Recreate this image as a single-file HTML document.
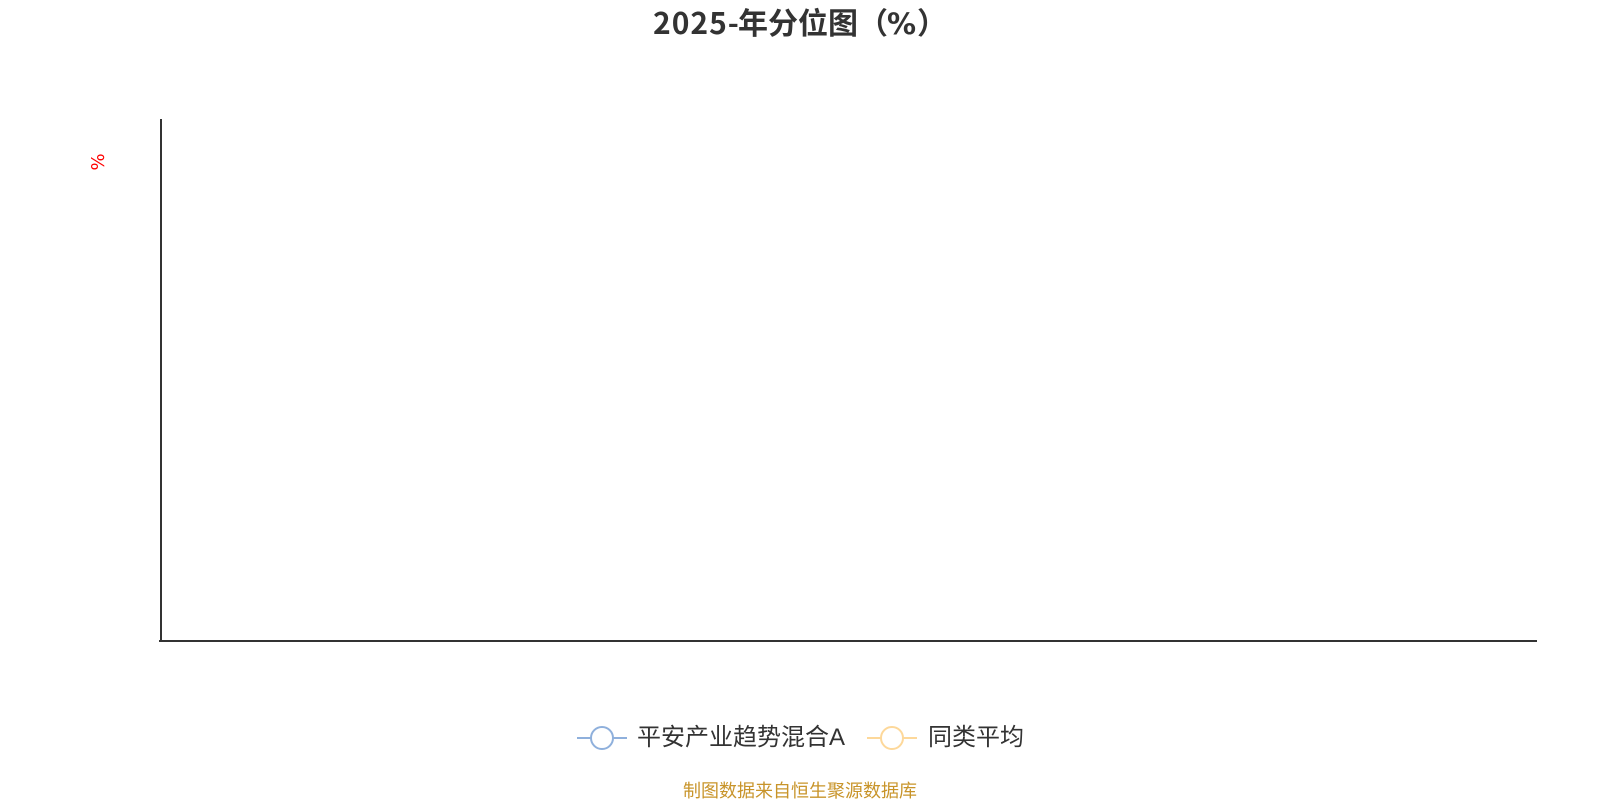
<!DOCTYPE html>
<html lang="zh">
<head>
<meta charset="utf-8">
<style>
html,body{margin:0;padding:0;background:#fff;width:1600px;height:800px;overflow:hidden}
svg{display:block;font-family:"Liberation Sans","WenQuanYi Zen Hei","Noto Sans CJK SC",sans-serif}
</style>
</head>
<body>
<svg width="1600" height="800" viewBox="0 0 1600 800" xmlns="http://www.w3.org/2000/svg">
<rect width="1600" height="800" fill="#fff"/>
<g font-size="30" font-weight="700" fill="#333" style='font-family:"Noto Sans CJK SC",sans-serif'>
<text x="653" y="34" letter-spacing="1">2025-</text>
<text x="738" y="34">年分位图</text>
<text x="858" y="34">（</text>
<text x="887" y="34" style='font-family:"DejaVu Sans",sans-serif' font-size="29">%</text>
<text x="917" y="34">）</text>
</g>
<text transform="translate(104,162) rotate(-90)" text-anchor="middle" font-size="18" fill="#f00" style='font-family:"DejaVu Sans",sans-serif'>%</text>
<rect x="160" y="119" width="2" height="523" fill="#333"/>
<rect x="159" y="640" width="1378" height="2" fill="#333"/>
<line x1="577" y1="738" x2="627" y2="738" stroke="#8fb0dc" stroke-width="2"/>
<circle cx="602" cy="738" r="11" fill="#fff" stroke="#8fb0dc" stroke-width="2"/>
<text x="637" y="745" font-size="24" fill="#333">平安产业趋势混合A</text>
<line x1="867" y1="738" x2="917" y2="738" stroke="#fdd89a" stroke-width="2"/>
<circle cx="892" cy="738" r="11" fill="#fff" stroke="#fdd89a" stroke-width="2"/>
<text x="928" y="745" font-size="24" fill="#333">同类平均</text>
<text x="800" y="797" text-anchor="middle" font-size="18" fill="#c8942a">制图数据来自恒生聚源数据库</text>
</svg>
</body>
</html>
